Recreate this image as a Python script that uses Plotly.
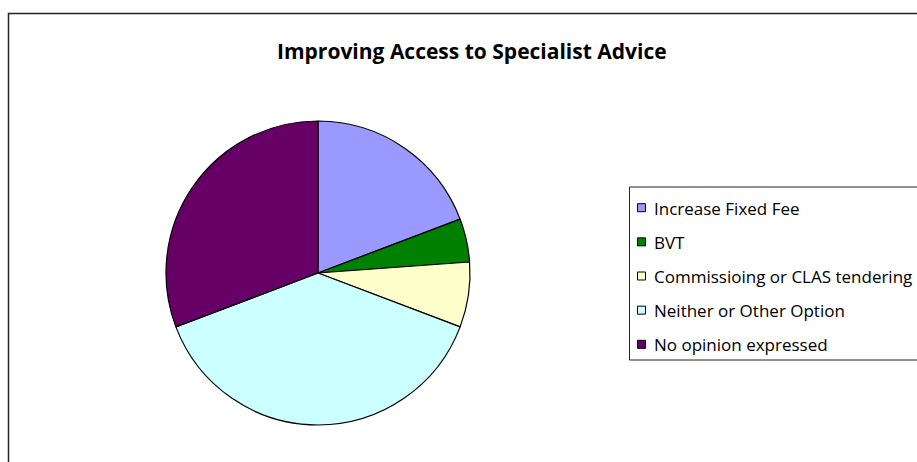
import plotly.graph_objects as go

W, H = 917, 462

# Responses to "Improving Access to Specialist Advice"
categories = [
    "Increase Fixed Fee",
    "BVT",
    "Commissioing or CLAS tendering",
    "Neither or Other Option",
    "No opinion expressed",
]
responses = [25, 6, 9, 50, 40]
slice_colors = ["#9999FF", "#008000", "#FFFFCC", "#CCFFFF", "#660066"]

title_text = "Improving Access to Specialist Advice"


def px_x(x):
    return x / W


def px_y(y):
    return 1 - y / H


# pie placement (pixel centre and radius)
cx, cy, r = 318, 273, 152

fig = go.Figure()
fig.add_trace(go.Pie(
    labels=categories,
    values=responses,
    sort=False,
    direction="clockwise",
    rotation=0,
    textinfo="none",
    hoverinfo="label+value+percent",
    showlegend=False,
    marker=dict(colors=slice_colors, line=dict(color="#000000", width=1.2)),
    domain=dict(x=[px_x(cx - r), px_x(cx + r)],
                y=[px_y(cy + r), px_y(cy - r)]),
))

shapes = []
annotations = []

# outer chart frame, running off the right and bottom edges
shapes.append(dict(type="rect", xref="paper", yref="paper",
                   x0=px_x(8.5), x1=px_x(W + 20), y0=px_y(H + 20), y1=px_y(13.5),
                   line=dict(color="#222222", width=1.5), fillcolor="rgba(0,0,0,0)"))

# legend box
shapes.append(dict(type="rect", xref="paper", yref="paper",
                   x0=px_x(629.5), x1=px_x(W + 20), y0=px_y(360), y1=px_y(187),
                   line=dict(color="#222222", width=1), fillcolor="rgba(0,0,0,0)"))

legend_top, legend_step = 207.7, 34.15
for i, (name, col) in enumerate(zip(categories, slice_colors)):
    yc = legend_top + i * legend_step
    shapes.append(dict(type="rect", xref="paper", yref="paper",
                       x0=px_x(637.5), x1=px_x(645.5),
                       y0=px_y(yc + 4), y1=px_y(yc - 4),
                       line=dict(color="#000000", width=1), fillcolor=col))
    annotations.append(dict(text=name, xref="paper", yref="paper",
                            x=px_x(652), y=px_y(yc + 0.5), xanchor="left", yanchor="middle",
                            showarrow=False,
                            font=dict(family="Open Sans", size=17, color="#000000")))

annotations.append(dict(text="<b>" + title_text + "</b>", xref="paper", yref="paper",
                        x=px_x(471.5), y=px_y(51), xanchor="center", yanchor="middle",
                        showarrow=False,
                        font=dict(family="Open Sans", size=21, color="#000000")))

fig.update_layout(
    width=W, height=H,
    margin=dict(l=0, r=0, t=0, b=0),
    paper_bgcolor="#FFFFFF",
    plot_bgcolor="#FFFFFF",
    shapes=shapes,
    annotations=annotations,
)

fig.write_html("out.html")
